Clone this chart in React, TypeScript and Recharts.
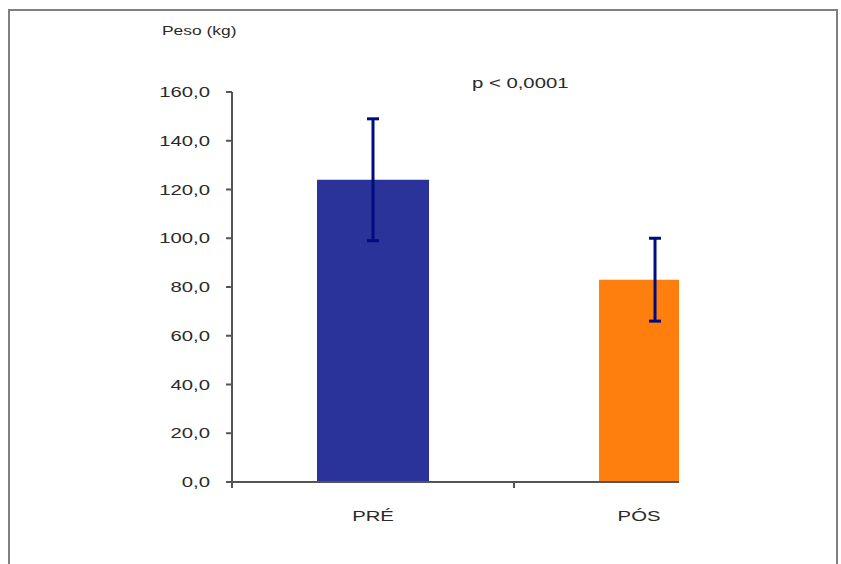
import React from "react";
import { BarChart, Bar, XAxis, YAxis, ErrorBar, Cell } from "recharts";

const categories = ["PRÉ", "PÓS"];
const meanWeight = [124, 83];
const sdWeight = [25, 17];
const yTicks = [0, 20, 40, 60, 80, 100, 120, 140, 160];

const barColors = ["#29339a", "#ff7f0e"];
const FONT = '"Liberation Sans", Arial, sans-serif';
const STRETCH = 1.45; // the original chart is stretched sideways
const PLOT_RIGHT = 679;
const BAR_SIZE = 112;

// x is a numeric axis so the right category can be cut off like in the original
const rows = categories.map((name, i) => ({
  pos: i + 0.5,
  name,
  mean: meanWeight[i],
  sd: sdWeight[i],
}));
const xDomainMax = 1.585;
const xTicks = [0, 0.5, 1, 1.5];

const fmt = (v: number) => v.toFixed(1).replace(".", ",");

function YTick({ x, y, payload }: any) {
  return (
    <g transform={`translate(${x},${y})`}>
      <text
        transform={`scale(${STRETCH},1)`}
        textAnchor="end"
        dy="0.36em"
        fontSize={14}
        fontFamily={FONT}
        fill="#2a2a2a"
      >
        {fmt(payload.value)}
      </text>
    </g>
  );
}

function XTick({ x, y, payload }: any) {
  const v: number = payload.value;
  if (Number.isInteger(v)) {
    return <line x1={x} x2={x} y1={y} y2={y + 6} stroke="#555" strokeWidth={2} />;
  }
  const row = rows.find((r) => r.pos === v);
  // centre the label on the visible part of the bar
  const left = x - BAR_SIZE / 2;
  const right = Math.min(x + BAR_SIZE / 2, PLOT_RIGHT);
  const cx = (left + right) / 2;
  return (
    <g transform={`translate(${cx},${y + 39})`}>
      <text
        transform={`scale(${STRETCH},1)`}
        textAnchor="middle"
        fontSize={14}
        fontFamily={FONT}
        fill="#2a2a2a"
      >
        {row ? row.name : ""}
      </text>
    </g>
  );
}

const overlayText: React.CSSProperties = {
  position: "absolute",
  fontFamily: FONT,
  color: "#2a2a2a",
  whiteSpace: "nowrap",
  transformOrigin: "left top",
  transform: `scaleX(${STRETCH})`,
};

export default function App() {
  return (
    <div
      style={{
        position: "fixed",
        left: 0,
        top: 0,
        width: 841,
        height: 564,
        overflow: "hidden",
        background: "#fff",
      }}
    >
      <div
        style={{
          position: "absolute",
          left: 8,
          top: 9,
          width: 826,
          height: 600,
          borderTop: "2px solid #808080",
          borderLeft: "2px solid #808080",
          borderRight: "2px solid #808080",
        }}
      />
      <div style={{ ...overlayText, left: 162, top: 25, fontSize: 12, lineHeight: "12px" }}>
        Peso (kg)
      </div>
      <div style={{ ...overlayText, left: 472, top: 76, fontSize: 14, lineHeight: "14px" }}>
        p &lt; 0,0001
      </div>
      <div style={{ position: "absolute", left: 0, top: 0 }}>
        <BarChart
          width={841}
          height={530}
          data={rows}
          margin={{ top: 92, right: 841 - PLOT_RIGHT, bottom: 7, left: 172 }}
        >
          <XAxis
            dataKey="pos"
            type="number"
            domain={[0, xDomainMax]}
            allowDataOverflow
            ticks={xTicks}
            interval={0}
            height={41}
            tickLine={false}
            tickSize={0}
            tickMargin={0}
            tick={<XTick />}
            axisLine={{ stroke: "#555", strokeWidth: 2 }}
          />
          <YAxis
            domain={[0, 160]}
            ticks={yTicks}
            interval={0}
            width={60}
            tickSize={6}
            tickMargin={16}
            tick={<YTick />}
            axisLine={{ stroke: "#555", strokeWidth: 2 }}
            tickLine={{ stroke: "#555", strokeWidth: 2 }}
          />
          <Bar dataKey="mean" barSize={BAR_SIZE} isAnimationActive={false}>
            {rows.map((r, i) => (
              <Cell key={r.name} fill={barColors[i]} />
            ))}
            <ErrorBar
              dataKey="sd"
              direction="y"
              width={6}
              stroke="#000c80"
              strokeWidth={3}
              isAnimationActive={false}
            />
          </Bar>
        </BarChart>
      </div>
    </div>
  );
}
